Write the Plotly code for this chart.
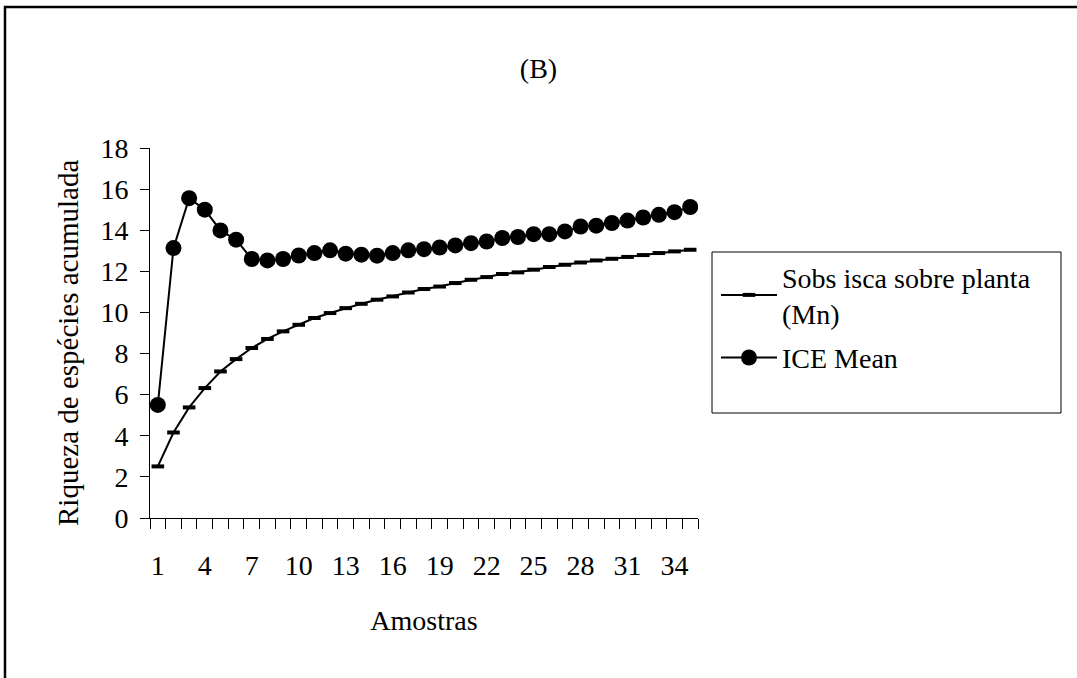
import plotly.graph_objects as go

# Accumulated species richness per sample (Sobs and ICE estimator)
amostras = list(range(1, 36))
sobs = [2.51, 4.16, 5.38, 6.32, 7.13, 7.73, 8.27, 8.71, 9.08, 9.40,
        9.73, 9.97, 10.21, 10.42, 10.62, 10.78, 10.97, 11.14, 11.26, 11.43,
        11.59, 11.72, 11.87, 11.95, 12.08, 12.21, 12.32, 12.43, 12.53, 12.61,
        12.70, 12.79, 12.89, 12.97, 13.05]
ice_mean = [5.50, 13.13, 15.56, 15.00, 13.99, 13.54, 12.60, 12.53, 12.60, 12.77,
            12.89, 13.02, 12.86, 12.81, 12.76, 12.89, 13.02, 13.08, 13.16, 13.26,
            13.37, 13.45, 13.62, 13.67, 13.81, 13.81, 13.94, 14.18, 14.22, 14.35,
            14.47, 14.62, 14.75, 14.88, 15.13]
x_labels = list(range(1, 36, 3))
y_ticks = list(range(0, 19, 2))

FONT = "Liberation Serif, Times New Roman, serif"
FS = 28

W, H = 1077, 678
L, R, T, B = 150, 698, 148, 518  # plot area in pixels


def px_x(p):
    return (p - L) / (R - L)


def px_y(p):
    return (B - p) / (B - T)


fig = go.Figure()
fig.add_trace(go.Scatter(
    x=amostras, y=sobs, mode="lines+markers",
    name="Sobs isca sobre planta<br>(Mn)", legendgroup="sobs",
    line=dict(color="black", width=2),
    marker=dict(symbol="line-ew", size=9, color="black",
                line=dict(color="black", width=4)),
))
fig.add_trace(go.Scatter(
    x=amostras, y=ice_mean, mode="lines+markers",
    name="ICE Mean", legendgroup="ice",
    line=dict(color="black", width=2),
    marker=dict(symbol="circle", size=16, color="black"),
))

fig.update_layout(
    width=W, height=H,
    margin=dict(l=L, r=W - R, t=T, b=H - B, pad=0),
    paper_bgcolor="white", plot_bgcolor="white",
    font=dict(family=FONT, size=FS, color="black"),
    title=dict(text="(B)", x=0.5, xref="container", xanchor="center",
               y=1 - 68 / H, yref="container", yanchor="middle",
               font=dict(family=FONT, size=FS, color="black")),
    showlegend=True,
    legend=dict(x=px_x(716), y=px_y(252), xanchor="left", yanchor="top",
                bgcolor="rgba(0,0,0,0)", borderwidth=0,
                font=dict(family=FONT, size=FS, color="black"),
                itemwidth=56, traceorder="grouped", tracegroupgap=5),
    xaxis=dict(
        range=[0.5, 35.5], showgrid=False, zeroline=False,
        showline=True, linecolor="black", linewidth=1,
        tickmode="array", tickvals=x_labels, ticktext=[str(v) for v in x_labels],
        ticks="", ticklabelstandoff=22,
        minor=dict(tickmode="linear", tick0=0.5, dtick=1, ticks="outside",
                   ticklen=10, tickcolor="black", tickwidth=1, showgrid=False),
        title=dict(text="Amostras", standoff=30,
                   font=dict(family=FONT, size=FS, color="black")),
    ),
    yaxis=dict(
        range=[0, 18], showgrid=False, zeroline=False,
        showline=True, linecolor="black", linewidth=1,
        tickmode="array", tickvals=y_ticks,
        ticks="outside", ticklen=9, tickcolor="black", tickwidth=1,
        ticklabelstandoff=6,
    ),
    annotations=[
        # y-axis title, placed slightly below the plot's vertical centre
        dict(text="Riqueza de espécies acumulada", textangle=-90,
             xref="paper", yref="paper", x=px_x(68), y=px_y(343),
             xanchor="center", yanchor="middle", showarrow=False,
             font=dict(family=FONT, size=29, color="black")),
    ],
    shapes=[
        # outer frame
        dict(type="rect", xref="paper", yref="paper",
             x0=px_x(5), x1=px_x(1090), y0=px_y(700), y1=px_y(7),
             line=dict(color="black", width=2.5), fillcolor="rgba(0,0,0,0)"),
        # legend frame
        dict(type="rect", xref="paper", yref="paper",
             x0=px_x(712), x1=px_x(1061), y0=px_y(413), y1=px_y(252),
             line=dict(color="black", width=1), fillcolor="rgba(0,0,0,0)"),
    ],
)

fig.write_html("out.html")
